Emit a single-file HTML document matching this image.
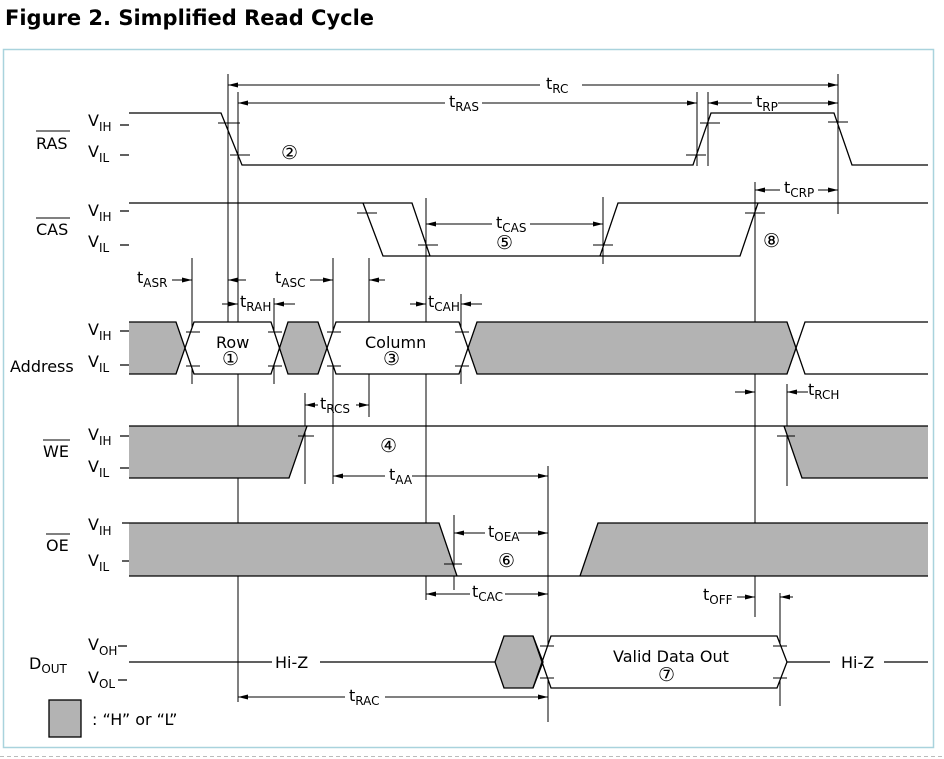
<!DOCTYPE html>
<html><head><meta charset="utf-8"><style>
html,body{margin:0;padding:0;background:#fff;}
svg{display:block;}
text{font-family:"DejaVu Sans","Liberation Sans",sans-serif;font-size:16px;fill:#000;}
.s{font-size:12px;}
.c{font-size:19px;}
</style></head><body>
<svg width="944" height="759" viewBox="0 0 944 759" xmlns="http://www.w3.org/2000/svg">
<defs>
<marker id="a" markerWidth="10" markerHeight="6" refX="10" refY="3" orient="auto" markerUnits="userSpaceOnUse"><path d="M0,0.5 L10,3 L0,5.5z" fill="#000"/></marker>
</defs>
<text x="5" y="25" style="font-family:'DejaVu Sans','Liberation Sans',sans-serif;font-weight:bold;font-size:21px">Figure 2. Simplified Read Cycle</text>
<rect x="3.5" y="49.5" width="930" height="698" fill="none" stroke="#a9d3dd" stroke-width="1.5"/>
<line x1="0" y1="756.5" x2="944" y2="756.5" stroke="#bbb" stroke-dasharray="4,3"/>

<g stroke="#000" stroke-width="1">
<!-- verticals -->
<line x1="228" y1="74" x2="228" y2="322"/>
<line x1="238" y1="92" x2="238" y2="702"/>
<line x1="697" y1="92" x2="697" y2="166"/>
<line x1="708" y1="92" x2="708" y2="166"/>
<line x1="838" y1="74" x2="838" y2="214"/>
<line x1="192" y1="258" x2="192" y2="384"/>
<line x1="274" y1="298" x2="274" y2="384"/>
<line x1="333" y1="258" x2="333" y2="484"/>
<line x1="369" y1="258" x2="369" y2="417"/>
<line x1="426" y1="198" x2="426" y2="600"/>
<line x1="461" y1="294" x2="461" y2="384"/>
<line x1="603" y1="197" x2="603" y2="264"/>
<line x1="755" y1="182" x2="755" y2="617"/>
<line x1="305" y1="393" x2="305" y2="484"/>
<line x1="787" y1="384" x2="787" y2="486"/>
<line x1="454" y1="515" x2="454" y2="590"/>
<line x1="548" y1="466" x2="548" y2="722"/>
<line x1="780" y1="593" x2="780" y2="706"/>
</g>

<g fill="#b3b3b3" stroke="none">
<polygon points="129,322 176,322 185,348 176,374 129,374"/>
<polygon points="280,348 288,322 318,322 327,348 318,374 288,374"/>
<polygon points="468,348 477,322 787,322 797,348 787,374 477,374"/>
<polygon points="129,426 307,426 289,478 129,478"/>
<polygon points="784,426 928,426 928,478 802,478"/>
<polygon points="129,523 439,523 457,576 129,576"/>
<polygon points="580,576 598,523 928,523 928,576"/>
<polygon points="495,662 504,636 533,636 543,662 533,688 504,688"/>
<rect x="49" y="700" width="32" height="37" stroke="#000" stroke-width="1.3"/>
</g>
<g fill="#fff" stroke="none">
<polygon points="185,348 194,322 271,322 280,348 271,374 194,374"/>
<polygon points="327,348 336,322 459,322 468,348 459,374 336,374"/>
<polygon points="543,662 551,636 777,636 787,662 777,688 551,688"/>
</g>

<g fill="none" stroke="#000" stroke-width="1.3">
<!-- RAS -->
<polyline points="129,113 221,113 242,165 693,165 711,113 834,113 852,165 928,165"/>
<!-- CAS -->
<polyline points="129,203 412,203 430,256"/>
<polyline points="363,203 383,256 740,256 758,203"/>
<polyline points="600,256 618,203 928,203"/>
<!-- Address -->
<polyline points="129,322 176,322 194,374 271,374 288,322 318,322 336,374 459,374 477,322 787,322 805,374 928,374"/>
<polyline points="129,374 176,374 194,322 271,322 288,374 318,374 336,322 459,322 477,374 787,374 805,322 928,322"/>
<!-- WE -->
<polyline points="129,426 928,426"/>
<polyline points="129,478 289,478 307,426"/>
<polyline points="784,426 802,478 928,478"/>
<!-- OE -->
<polyline points="129,523 439,523 457,576"/>
<line x1="129" y1="576" x2="928" y2="576"/>
<polyline points="580,576 598,523 928,523"/>
<!-- Dout -->
<line x1="129" y1="662" x2="272" y2="662"/>
<line x1="320" y1="662" x2="495" y2="662"/>
<polygon points="495,662 504,636 533,636 543,662 533,688 504,688"/>
<polyline points="533,636 551,688 777,688 787,662 777,636 551,636 533,688"/>
<line x1="787" y1="662" x2="830" y2="662"/>
<line x1="884" y1="662" x2="928" y2="662"/>
<path d="M120,125h9M120,155h9M120,211h9M120,245h9M120,331h9M120,365h9M120,436h9M120,468h9M122,523h7M122,561h7M118,646h9M118,680h9"/>
</g>

<g stroke="#000" stroke-width="1">
<path d="M218,123h22M230,155h20M686,155h20M700,123h20M828,122h20M357,213h20M418,245h20M593,245h20M745,213h20M186,332h14M186,366h14M268,332h14M268,366h14M327,332h14M327,366h14M455,332h14M455,366h14M298,436h16M777,436h18M444,564h18M540,646h14M540,678h14M773,646h14M773,678h14"/>
</g>

<g stroke="#000" stroke-width="1" fill="none">
<line x1="540" y1="85" x2="228" y2="85" marker-end="url(#a)"/>
<line x1="582" y1="85" x2="838" y2="85" marker-end="url(#a)"/>
<line x1="445" y1="103" x2="238" y2="103" marker-end="url(#a)"/>
<line x1="482" y1="103" x2="697" y2="103" marker-end="url(#a)"/>
<line x1="752" y1="103" x2="708" y2="103" marker-end="url(#a)"/>
<line x1="778" y1="103" x2="838" y2="103" marker-end="url(#a)"/>
<line x1="780" y1="190" x2="755" y2="190" marker-end="url(#a)"/>
<line x1="818" y1="190" x2="838" y2="190" marker-end="url(#a)"/>
<line x1="492" y1="224" x2="426" y2="224" marker-end="url(#a)"/>
<line x1="530" y1="224" x2="603" y2="224" marker-end="url(#a)"/>
<line x1="172" y1="280" x2="192" y2="280" marker-end="url(#a)"/>
<line x1="246" y1="280" x2="228" y2="280" marker-end="url(#a)"/>
<line x1="310" y1="280" x2="333" y2="280" marker-end="url(#a)"/>
<line x1="385" y1="280" x2="369" y2="280" marker-end="url(#a)"/>
<line x1="222" y1="304" x2="238" y2="304" marker-end="url(#a)"/>
<line x1="295" y1="304" x2="274" y2="304" marker-end="url(#a)"/>
<line x1="410" y1="304" x2="426" y2="304" marker-end="url(#a)"/>
<line x1="482" y1="304" x2="461" y2="304" marker-end="url(#a)"/>
<line x1="318" y1="405" x2="305" y2="405" marker-end="url(#a)"/>
<line x1="356" y1="405" x2="369" y2="405" marker-end="url(#a)"/>
<line x1="735" y1="392" x2="755" y2="392" marker-end="url(#a)"/>
<line x1="808" y1="392" x2="787" y2="392" marker-end="url(#a)"/>
<line x1="385" y1="476" x2="333" y2="476" marker-end="url(#a)"/>
<line x1="412" y1="476" x2="548" y2="476" marker-end="url(#a)"/>
<line x1="485" y1="533" x2="454" y2="533" marker-end="url(#a)"/>
<line x1="518" y1="533" x2="548" y2="533" marker-end="url(#a)"/>
<line x1="470" y1="594" x2="426" y2="594" marker-end="url(#a)"/>
<line x1="505" y1="594" x2="548" y2="594" marker-end="url(#a)"/>
<line x1="737" y1="597" x2="755" y2="597" marker-end="url(#a)"/>
<line x1="793" y1="597" x2="780" y2="597" marker-end="url(#a)"/>
<line x1="345" y1="697" x2="238" y2="697" marker-end="url(#a)"/>
<line x1="385" y1="697" x2="548" y2="697" marker-end="url(#a)"/>
</g>

<text x="36" y="149">RAS</text><line x1="36" y1="131" x2="70" y2="131" stroke="#000"/>
<text x="36" y="235">CAS</text><line x1="36" y1="218" x2="70" y2="218" stroke="#000"/>
<text x="10" y="372">Address</text>
<text x="43" y="457">WE</text><line x1="43" y1="440" x2="70" y2="440" stroke="#000"/>
<text x="46" y="551">OE</text><line x1="46" y1="534" x2="70" y2="534" stroke="#000"/>
<text x="29" y="669">D<tspan class="s" dy="4">OUT</tspan></text>

<text x="88" y="126">V<tspan class="s" dy="5">IH</tspan></text>
<text x="88" y="157">V<tspan class="s" dy="5">IL</tspan></text>
<text x="88" y="216">V<tspan class="s" dy="5">IH</tspan></text>
<text x="88" y="247">V<tspan class="s" dy="5">IL</tspan></text>
<text x="88" y="335">V<tspan class="s" dy="5">IH</tspan></text>
<text x="88" y="367">V<tspan class="s" dy="5">IL</tspan></text>
<text x="88" y="440">V<tspan class="s" dy="5">IH</tspan></text>
<text x="88" y="472">V<tspan class="s" dy="5">IL</tspan></text>
<text x="88" y="530">V<tspan class="s" dy="5">IH</tspan></text>
<text x="88" y="566">V<tspan class="s" dy="5">IL</tspan></text>
<text x="88" y="650">V<tspan class="s" dy="5">OH</tspan></text>
<text x="88" y="683">V<tspan class="s" dy="5">OL</tspan></text>

<text x="546" y="89">t<tspan class="s" dy="4">RC</tspan></text>
<text x="449" y="107">t<tspan class="s" dy="4">RAS</tspan></text>
<text x="756" y="107">t<tspan class="s" dy="4">RP</tspan></text>
<text x="784" y="193">t<tspan class="s" dy="4">CRP</tspan></text>
<text x="496" y="228">t<tspan class="s" dy="4">CAS</tspan></text>
<text x="137" y="283">t<tspan class="s" dy="4">ASR</tspan></text>
<text x="275" y="283">t<tspan class="s" dy="4">ASC</tspan></text>
<text x="240" y="307">t<tspan class="s" dy="4">RAH</tspan></text>
<text x="428" y="307">t<tspan class="s" dy="4">CAH</tspan></text>
<text x="320" y="409">t<tspan class="s" dy="4">RCS</tspan></text>
<text x="808" y="395">t<tspan class="s" dy="4">RCH</tspan></text>
<text x="389" y="480">t<tspan class="s" dy="4">AA</tspan></text>
<text x="488" y="537">t<tspan class="s" dy="4">OEA</tspan></text>
<text x="472" y="597">t<tspan class="s" dy="4">CAC</tspan></text>
<text x="703" y="600">t<tspan class="s" dy="4">OFF</tspan></text>
<text x="349" y="701">t<tspan class="s" dy="4">RAC</tspan></text>

<text x="216" y="348">Row</text>
<text x="365" y="348">Column</text>
<text x="613" y="662">Valid Data Out</text>
<text x="275" y="668">Hi-Z</text>
<text x="841" y="668">Hi-Z</text>
<text x="92" y="725">: “H” or “L”</text>

<text class="c" x="281" y="159">②</text>
<text class="c" x="496" y="249">⑤</text>
<text class="c" x="763" y="247">⑧</text>
<text class="c" x="222" y="365">①</text>
<text class="c" x="383" y="365">③</text>
<text class="c" x="380" y="452">④</text>
<text class="c" x="498" y="567">⑥</text>
<text class="c" x="658" y="681">⑦</text>
</svg>
</body></html>
